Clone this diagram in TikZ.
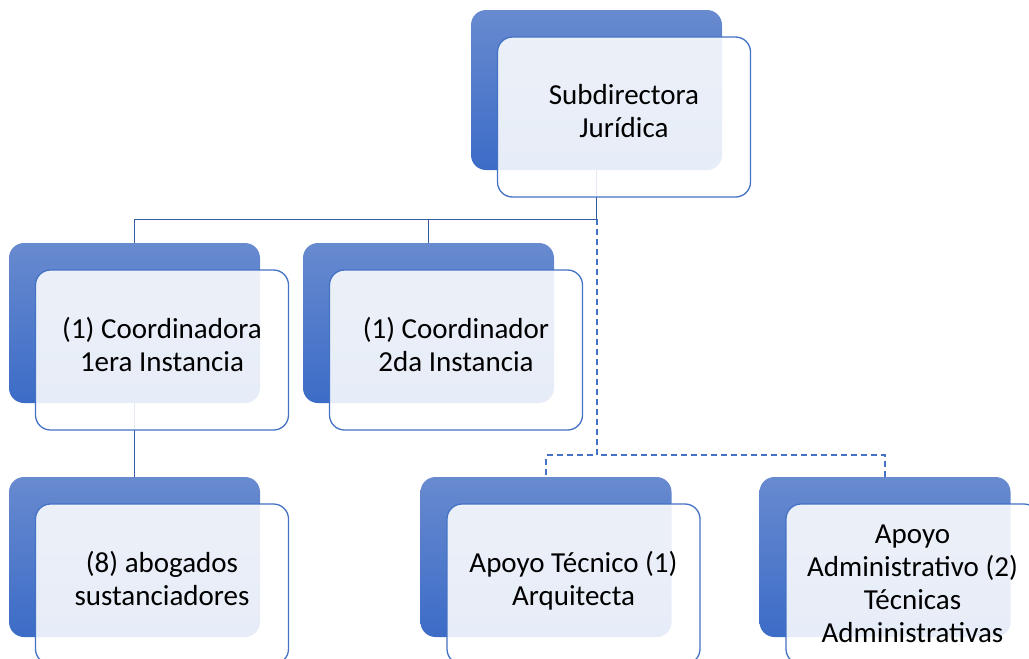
\documentclass[tikz,border=0pt]{standalone}
\usepackage{fontspec}
\setmainfont{Carlito}
\definecolor{boxtop}{RGB}{104,138,207}
\definecolor{boxbot}{RGB}{60,108,199}
\definecolor{edge}{RGB}{68,114,196}
\definecolor{link}{RGB}{52,90,165}
\tikzset{
  backbox/.style={rounded corners=15pt,minimum width=251pt,minimum height=160pt,
    top color=boxtop,bottom color=boxbot,draw=none},
  frontbox/.style={rounded corners=15pt,minimum width=253pt,minimum height=160pt,
    draw=edge,line width=1.3pt,fill=white,fill opacity=.88,text opacity=1,
    align=center,font=\fontsize{29}{33}\selectfont,text depth=12pt},
  solidlink/.style={draw=link,line width=1.3pt},
  dashlink/.style={draw=edge,line width=2pt,dash pattern=on 6pt off 4pt}
}
\begin{document}
\begin{tikzpicture}[x=1pt,y=-1pt]
  \clip (0,0) rectangle (1029,659);
  \node[backbox] (sub) at (596.5,90) {};
  \node[backbox] (coorA) at (134.5,323) {};
  \node[backbox] (coorB) at (428.5,323) {};
  \node[backbox] (abog) at (134.5,557) {};
  \node[backbox] (tec) at (546,557) {};
  \node[backbox] (adm) at (885,557) {};
  \coordinate (fork) at ([yshift=-49pt]sub.south);
  \draw[dashlink] (fork) -- ++(0,236) -| (tec.north);
  \draw[dashlink] (fork) -- ++(0,236) -| (adm.north);
  \draw[solidlink] (sub.south) -- (fork) -| (coorA.north);
  \draw[solidlink] (fork) -| (coorB.north);
  \draw[solidlink] (coorA.south) -- (abog.north);
  \node[frontbox] (subF) at ([shift={(27.5,27)}]sub.center) {Subdirectora\\Jurídica};
  \node[frontbox] (coorAF) at ([shift={(27.5,27)}]coorA.center) {(1) Coordinadora\\1era Instancia};
  \node[frontbox] (coorBF) at ([shift={(27.5,27)}]coorB.center) {(1) Coordinador\\2da Instancia};
  \node[frontbox] (abogF) at ([shift={(27.5,27)}]abog.center) {(8) abogados\\sustanciadores};
  \node[frontbox] (tecF) at ([shift={(27.5,27)}]tec.center) {Apoyo Técnico (1)\\Arquitecta};
  \node[frontbox,text depth=0pt] (admF) at ([shift={(27.5,27)}]adm.center) {Apoyo\\Administrativo (2)\\Técnicas\\Administrativas};
\end{tikzpicture}
\end{document}
